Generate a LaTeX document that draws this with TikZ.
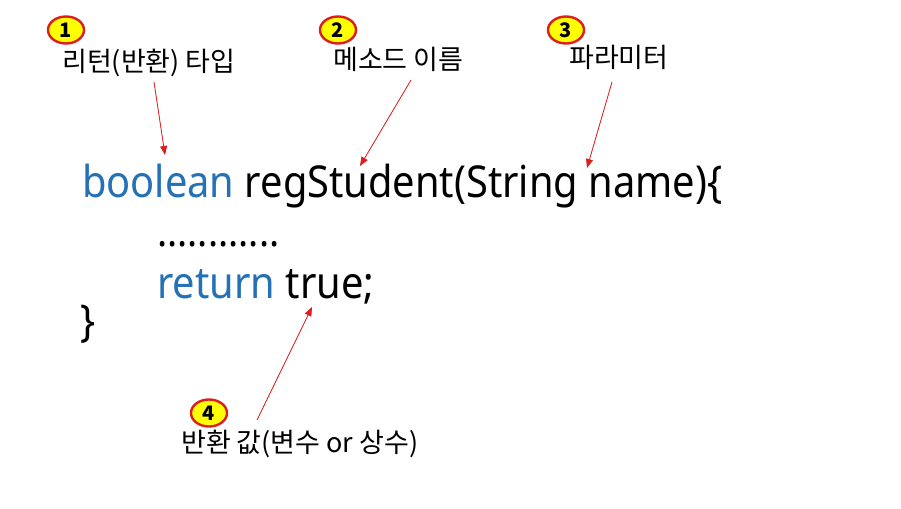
\documentclass[tikz,border=0pt]{standalone}
\usepackage{fontspec}
\setmainfont{Noto Sans CJK KR}
\newfontfamily\codefont[FakeStretch=0.905]{Noto Sans}
\usetikzlibrary{arrows.meta,shapes.geometric}
\definecolor{kwblue}{RGB}{36,113,181}
\definecolor{badgered}{RGB}{220,30,30}
\definecolor{badgeyellow}{RGB}{255,255,0}
\tikzset{
  badge/.style={ellipse, draw=badgered, line width=2.4pt, fill=badgeyellow,
    minimum width=36pt, minimum height=27pt, inner sep=0pt,
    font=\fontsize{20}{20}\selectfont\bfseries},
  lbl/.style={anchor=base west, inner sep=0pt, font=\fontsize{27}{27}\selectfont},
  code/.style={anchor=base west, inner sep=0pt, font=\codefont\fontsize{44}{44}\selectfont},
  pointer/.style={draw=badgered, line width=0.8pt, -{Triangle[length=9pt,width=7pt]}, fill=badgered}
}
\begin{document}
\begin{tikzpicture}[x=1pt,y=-1pt]
\useasboundingbox (0,0) rectangle (901,508);
\node[badge] (b1) at (66,30) {1};
\node[badge] (b2) at (338,30) {2};
\node[badge] (b3) at (566,30) {3};
\node[badge] (b4) at (209,413) {4};
\node[lbl] (l1) at (62,72) {리턴(반환) 타입};
\node[lbl] (l2) at (333,70) {메소드 이름};
\node[lbl] (l3) at (569,68) {파라미터};
\node[lbl] (l4) at (181,452) {반환 값(변수 or 상수)};
\node[code] (c1) at (82,197) {\textcolor{kwblue}{boolean} regStudent(String name)\{};
\node[code, font=\codefont\fontsize{42}{42}\selectfont] (c2) at (157,246) {............};
\node[code] (c3) at (157,298) {\textcolor{kwblue}{return} true;};
\node[code] (c4) at (80,336) {\}};
\coordinate (s1) at (154,82);
\coordinate (e1) at (165,155);
\coordinate (s2) at (411,80);
\coordinate (e2) at (360,166);
\coordinate (s3) at (612,82);
\coordinate (e3) at (587,168);
\coordinate (s4) at (257,420);
\coordinate (e4) at (312,307);
\draw[pointer] (s1) -- (e1);
\draw[pointer] (s2) -- (e2);
\draw[pointer] (s3) -- (e3);
\draw[pointer] (s4) -- (e4);
\end{tikzpicture}
\end{document}
